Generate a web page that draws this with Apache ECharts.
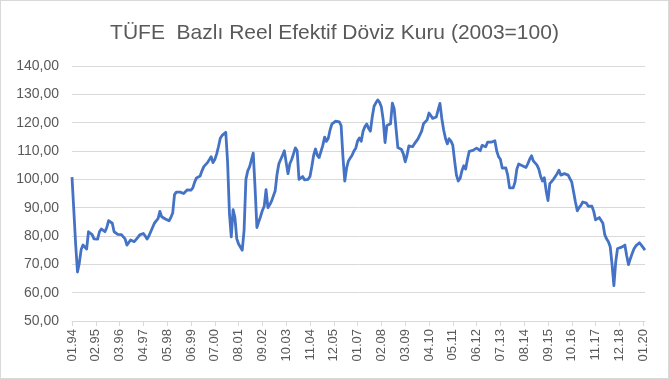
<!DOCTYPE html>
<html>
<head>
<meta charset="utf-8">
<script src="https://cdn.jsdelivr.net/npm/echarts@6/dist/echarts.min.js"></script>
<style>
html,body{margin:0;padding:0;background:#fff;}
#c{width:669px;height:379px;box-sizing:border-box;border:1px solid #d9d9d9;}
</style>
</head>
<body>
<div id="c"></div>
<script>
var titleText = 'TÜFE  Bazlı Reel Efektif Döviz Kuru (2003=100)';
var startYear = 1994;
var startMonth = 1;
var yTicks = { min: 50, max: 140, step: 10 };

var v1994 = [100.8, 89, 77, 67.3, 70.5, 75.2, 76.8, 76.5, 75.4, 81.5, 82.1, 80.5];
var v1995 = [79, 78.9, 78.9, 81.5, 82.5, 82.7, 81.5, 83, 85.4, 85.2, 84.5, 81.5];
var v1996 = [82.1, 80.6, 81, 80.5, 80.4, 79, 76.8, 77.5, 78.6, 78.5, 78, 78.1];
var v1997 = [79.5, 80.4, 80.6, 80.9, 80, 78.9, 80, 81.5, 83, 84.5, 85.3, 86.1];
var v1998 = [88.7, 86.8, 86.3, 86, 85.7, 85.4, 86.5, 88.1, 94.6, 95.5, 95.2, 95.5];
var v1999 = [95.3, 95, 95.6, 96.3, 95.8, 96.2, 97, 99, 100.5, 100.8, 101.2, 103];
var v2000 = [104.5, 105.1, 105.9, 106.5, 108, 105.9, 107, 108.9, 111.5, 114.5, 115.5, 115.8];
var v2001 = [116.6, 106, 88, 79.7, 89.3, 86.5, 79, 77.2, 76.8, 75, 82, 100];
var v2002 = [103, 104.4, 104.8, 109.3, 97, 83, 85, 86.9, 89, 90.5, 96.4, 90];
var v2003 = [91, 92.3, 92.3, 96, 101.8, 105.5, 107, 108.5, 110.1, 105.9, 102, 105.5];
var v2004 = [107, 109, 111.1, 110.1, 100, 100.5, 101, 99.8, 99.4, 100, 101, 104.5];
var v2005 = [108.5, 110.7, 108.5, 107.7, 108.2, 112, 114.9, 113.4, 114.5, 117.5, 119.6, 119.8];
var v2006 = [120.5, 121, 120.3, 119, 108, 99.4, 104, 106.5, 107.5, 108.5, 110, 111];
var v2007 = [113.5, 114.6, 113.4, 117, 118.6, 119.5, 118, 117, 122, 125.8, 127, 128];
var v2008 = [127.2, 125.5, 121, 113, 119, 119.3, 119.6, 126.9, 124.9, 118, 111.2, 111.2];
var v2009 = [110.5, 109, 106.2, 108.5, 111.8, 111.2, 111.5, 112.5, 112.3, 114.3, 113.7, 117];
var v2010 = [119.6, 119.6, 121, 123.4, 122.5, 121.5, 120.8, 122, 124.5, 126.8, 121.5, 117.5];
var v2011 = [114.5, 112.5, 114.3, 113.5, 112.1, 106.5, 101.5, 99.4, 100.3, 103, 104.8, 103.6];
var v2012 = [107, 109.9, 109.5, 110.2, 110.7, 111, 111.3, 110.1, 112, 112.5, 111.5, 113.1];
var v2013 = [113, 113.1, 113.3, 113.6, 110, 108, 107.1, 104, 103.5, 104, 101.5, 97];
var v2014 = [96.4, 97, 99, 103.6, 105.4, 105, 104.8, 104.5, 104.2, 105.5, 107.1, 108.3];
var v2015 = [106.5, 107, 105, 103.6, 101, 99.4, 100.6, 96, 92.5, 98.5, 99.2, 100];
var v2016 = [100.6, 102, 103.2, 101.5, 100.8, 102, 102.4, 101.5, 101, 99, 95.5, 92];
var v2017 = [88.9, 90, 90.8, 92, 92.5, 91.6, 90.5, 91.2, 90.5, 88.7, 85.7, 86];
var v2018 = [86.5, 86.9, 84.5, 80.5, 79, 78, 76.2, 70, 62.5, 70.8, 75.6, 76.2];
var v2019 = [76, 75.6, 76.8, 73, 69.9, 72, 73.8, 75.5, 76.5, 77, 77.6, 76.8];
var v2020 = [76.2, 75];

var values = [].concat(v1994, v1995, v1996, v1997, v1998, v1999, v2000, v2001, v2002,
  v2003, v2004, v2005, v2006, v2007, v2008, v2009, v2010, v2011, v2012, v2013,
  v2014, v2015, v2016, v2017, v2018, v2019, v2020);

var categories = [];
for (var k = 0; k < values.length; k++) {
  var m = (startMonth - 1 + k) % 12 + 1;
  var y = startYear + Math.floor((startMonth - 1 + k) / 12);
  categories.push((m < 10 ? '0' + m : '' + m) + '.' + String(y).slice(2));
}

var chart = echarts.init(document.getElementById('c'), null, { renderer: 'canvas' });
chart.setOption({
  animation: false,
  title: {
    text: titleText,
    left: 'center',
    top: 17,
    textStyle: { fontFamily: 'Liberation Sans', fontSize: 21, fontWeight: 'normal', color: '#595959' }
  },
  grid: { left: 71, right: 23, top: 65, bottom: 57 },
  xAxis: {
    type: 'category',
    data: categories,
    boundaryGap: false,
    axisLine: { show: true, lineStyle: { color: '#d9d9d9', width: 1 } },
    axisTick: { show: true, interval: 12, length: 5, lineStyle: { color: '#d9d9d9' } },
    axisLabel: {
      interval: 12,
      rotate: 90,
      margin: 8,
      fontFamily: 'Liberation Sans',
      fontSize: 13,
      color: '#595959'
    },
    splitLine: { show: false }
  },
  yAxis: {
    type: 'value',
    min: yTicks.min,
    max: yTicks.max,
    interval: yTicks.step,
    axisLine: { show: false },
    axisTick: { show: false },
    axisLabel: {
      margin: 13,
      fontFamily: 'Liberation Sans',
      fontSize: 14,
      color: '#595959',
      formatter: function (v) { return v.toFixed(2).replace('.', ','); }
    },
    splitLine: { lineStyle: { color: '#d9d9d9', width: 1 } }
  },
  series: [{
    type: 'line',
    data: values,
    showSymbol: false,
    symbol: 'none',
    lineStyle: { color: '#4472C4', width: 2.8, join: 'round' },
    itemStyle: { color: '#4472C4' }
  }]
});
</script>
</body>
</html>
